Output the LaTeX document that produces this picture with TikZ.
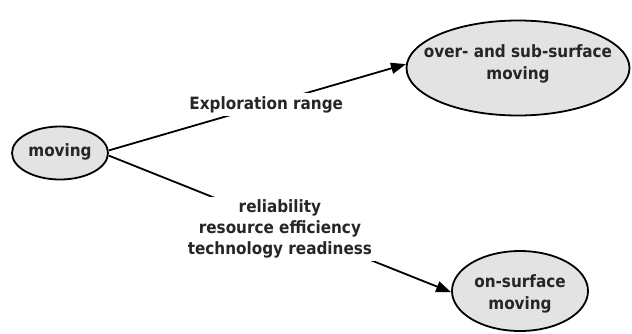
\documentclass[tikz,border=0pt]{standalone}
\usepackage{fontspec}
\setmainfont{DejaVu Sans Condensed}
\usetikzlibrary{shapes.geometric,arrows.meta}
\definecolor{ellfill}{gray}{0.89}
\tikzset{
  ell/.style={ellipse, draw=black, line width=1.8bp, fill=ellfill, inner sep=0pt},
  txt/.style={align=center, inner sep=0pt, font=\bfseries\fontsize{17}{22}\selectfont, text=black!85},
  lbl/.style={align=center, fill=white, inner sep=3bp, font=\bfseries\fontsize{17}{21}\selectfont, text=black!85},
  arr/.style={line width=1.8bp, -{Triangle[length=15bp,width=11bp]}},
}
\begin{document}
\begin{tikzpicture}[x=1bp,y=-1bp]
\useasboundingbox (0,0) rectangle (632,333);
\node[ell, minimum width=96bp, minimum height=53bp] (moving) at (60,153) {};
\node[txt] (movingtxt) at (60,152) {moving};
\node[ell, minimum width=223bp, minimum height=95bp] (top) at (518,68) {};
\node[txt] (toptxt) at (518,64) {over- and sub-surface\\moving};
\node[ell, minimum width=136bp, minimum height=80bp] (bot) at (520,291) {};
\node[txt] (bottxt) at (520,294) {on-surface\\moving};
\draw[arr] (moving.3) -- node[lbl, pos=0.53] (l1) {Exploration range} (top.178);
\draw[arr] (moving.-3) -- node[lbl, pos=0.50, yshift=-5bp] (l2) {reliability\\resource efficiency\\technology readiness} (bot.181);
\end{tikzpicture}
\end{document}
